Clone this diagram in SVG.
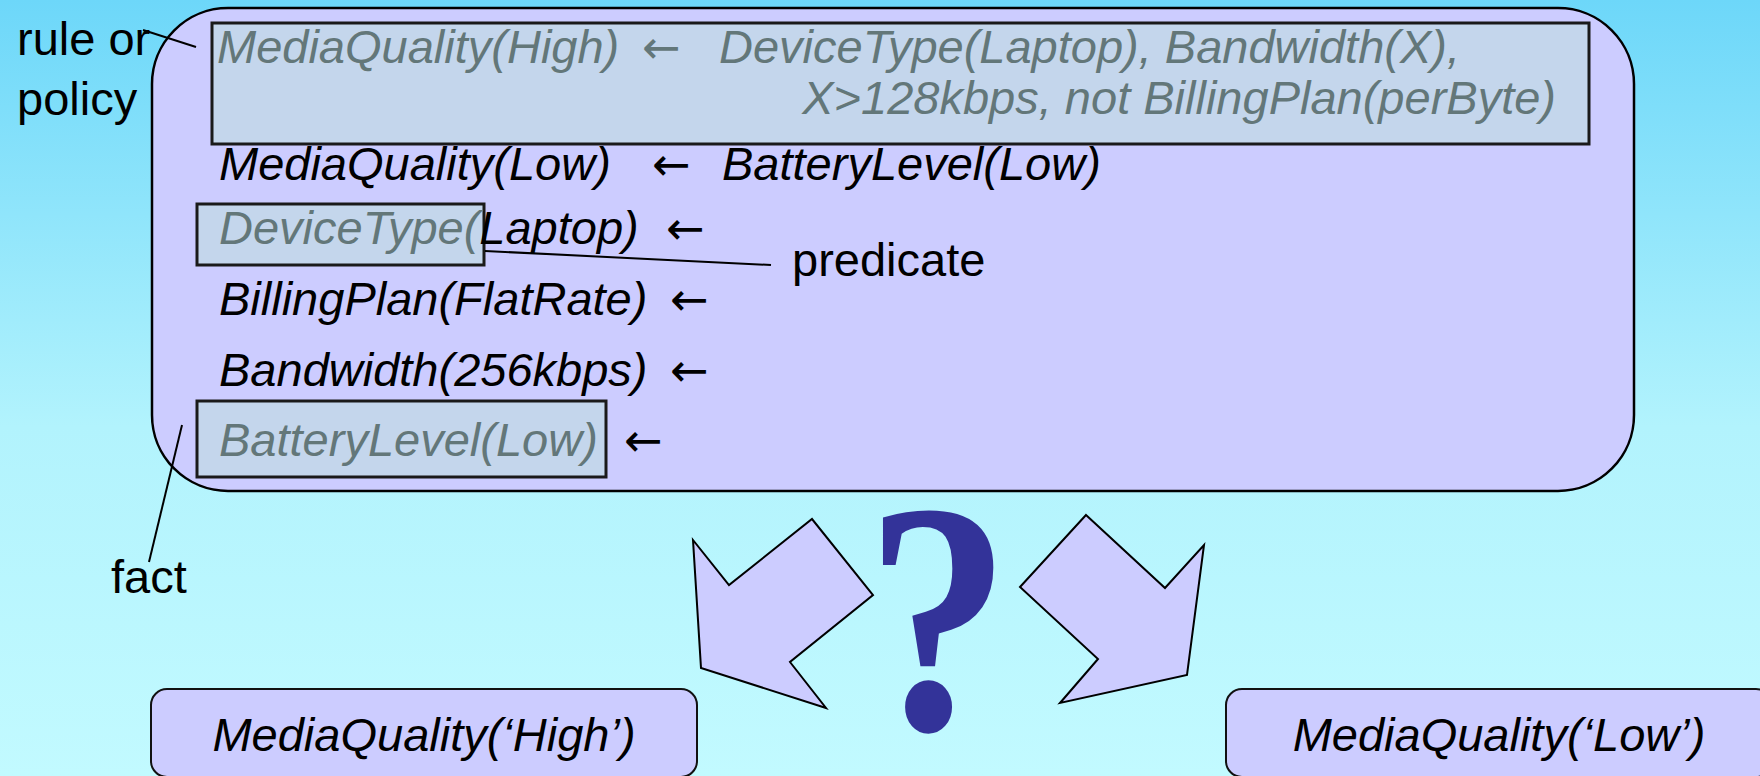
<svg xmlns="http://www.w3.org/2000/svg" width="1760" height="776" viewBox="0 0 1760 776">
<defs>
<linearGradient id="bg" x1="0" y1="0" x2="0" y2="1">
<stop offset="0" stop-color="#6DD7F9"/>
<stop offset="0.55" stop-color="#B2F3FD"/>
<stop offset="1" stop-color="#C2FAFF"/>
</linearGradient>
<style>
.t{font-family:"Liberation Sans",Arial,sans-serif;font-size:47px;font-style:italic;fill:#000}
.g{fill:#637779}
.ar{font-family:"DejaVu Sans",sans-serif;font-style:normal;font-size:46px}
.lbl{font-family:"Liberation Sans",Arial,sans-serif;font-size:47px;fill:#000}
.hl{fill:#C4D6EC;stroke:#1a1a1a;stroke-width:3}
.box{fill:#CCCCFF;stroke:#111;stroke-width:2}
.lead{stroke:#000;stroke-width:2;fill:none}
.blk{fill:#CCCCFF;stroke:#000;stroke-width:2;stroke-linejoin:miter}
</style>
</defs>
<rect x="0" y="0" width="1760" height="776" fill="url(#bg)"/>

<g id="knowledge-base">
<rect x="152" y="8" width="1482" height="483" rx="76" ry="76" fill="#CCCCFF" stroke="#000" stroke-width="2.5"/>
</g>

<g id="rule">
<rect class="hl" x="212" y="23" width="1377" height="121"/>
<text class="t g" x="217" y="63">MediaQuality(High)</text>
<text class="t g ar" x="642" y="63">←</text>
<text class="t g" x="719" y="63">DeviceType(Laptop), Bandwidth(X),</text>
<text class="t g" x="1556" y="114" text-anchor="end">X&gt;128kbps, not BillingPlan(perByte)</text>
</g>

<g id="rule-low">
<text class="t" x="219" y="180">MediaQuality(Low)</text>
<text class="t ar" x="652" y="180">←</text>
<text class="t" x="722" y="180">BatteryLevel(Low)</text>
</g>

<g id="fact-device">
<rect class="hl" x="197" y="204" width="287" height="61"/>
<text class="t" x="219" y="244"><tspan class="g">DeviceType(</tspan>Laptop)</text>
<text class="t ar" x="666" y="244">←</text>
</g>

<g id="fact-billing">
<text class="t" x="219" y="315">BillingPlan(FlatRate)</text>
<text class="t ar" x="670" y="315">←</text>
</g>

<g id="fact-bandwidth">
<text class="t" x="219" y="386">Bandwidth(256kbps)</text>
<text class="t ar" x="670" y="386">←</text>
</g>

<g id="fact-battery">
<rect class="hl" x="197" y="401" width="409" height="76"/>
<text class="t g" x="219" y="456">BatteryLevel(Low)</text>
<text class="t ar" x="624" y="456">←</text>
</g>

<g id="label-rule">
<text class="lbl" x="17" y="55">rule or</text>
<text class="lbl" x="17" y="115">policy</text>
</g>
<g id="label-predicate">
<text class="lbl" x="792" y="276">predicate</text>
</g>
<g id="label-fact">
<text class="lbl" x="111" y="593">fact</text>
</g>

<g id="choice-arrows">
<polygon class="blk" points="693,540 729,585 812,519 873,595 790,662 826,708 701,668"/>
<polygon class="blk" points="1086,515 1165,588 1204,545 1187,675 1060,703 1098,659 1020,587"/>
</g>

<g id="question">
<text transform="translate(938,729) scale(0.88,1)" x="0" y="0" text-anchor="middle" font-family="Liberation Serif, Times New Roman, serif" font-weight="bold" font-size="330" fill="#333399">?</text>
</g>

<g id="result-high">
<rect class="box" x="151" y="689" width="546" height="88" rx="16" ry="16"/>
<text class="t" x="424" y="751" text-anchor="middle">MediaQuality(‘High’)</text>
</g>

<g id="result-low">
<rect class="box" x="1226" y="689" width="546" height="88" rx="16" ry="16"/>
<text class="t" x="1499" y="751" text-anchor="middle">MediaQuality(‘Low’)</text>
</g>

<g id="connectors">
<line class="lead" x1="143" y1="30" x2="196" y2="47" stroke-width="1.5"/>
<line class="lead" x1="485" y1="251" x2="771" y2="265" stroke-width="1.5"/>
<line class="lead" x1="182" y1="425" x2="149" y2="562"/>
</g>
</svg>
